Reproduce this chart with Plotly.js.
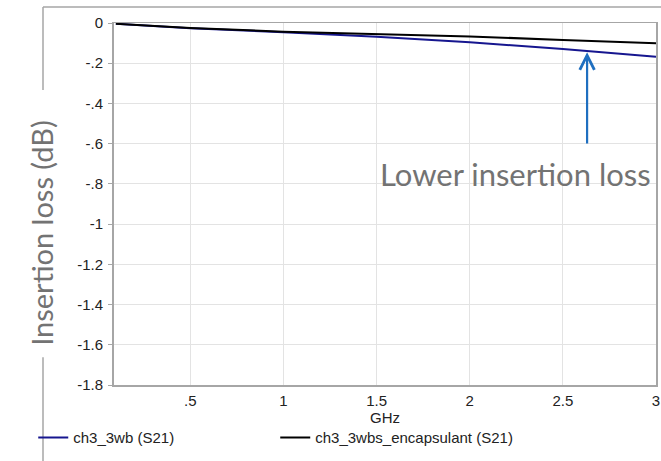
<!DOCTYPE html>
<html>
<head>
<meta charset="utf-8">
<script src="https://cdn.plot.ly/plotly-3.0.1.min.js"></script>
<style>html,body{margin:0;padding:0;background:#fff;}#chart{width:661px;height:461px;}</style>
</head>
<body>
<div id="chart"></div>
<script>
// Frequency (GHz)
const freqGHz = [0.1, 0.5, 1.0, 1.5, 2.0, 2.5, 3.0];
// Insertion loss S21 (dB)
const s21_3wb = [-0.004, -0.026, -0.046, -0.068, -0.096, -0.129, -0.168];
const s21_3wbsEncapsulant = [-0.004, -0.025, -0.043, -0.054, -0.067, -0.084, -0.101];
const seriesNames = ['ch3_3wb (S21)', 'ch3_3wbs_encapsulant (S21)'];
const xTickVals = [0.5, 1, 1.5, 2, 2.5, 3];
const xTickText = ['.5', '1', '1.5', '2', '2.5', '3'];
const yTickVals = [0, -0.2, -0.4, -0.6, -0.8, -1, -1.2, -1.4, -1.6, -1.8];
const yTickText = ['0', '-.2', '-.4', '-.6', '-.8', '-1', '-1.2', '-1.4', '-1.6', '-1.8'];
const yTitleText = 'Insertion loss (dB)';
const xTitleText = 'GHz';
const annotationText = 'Lower insertion loss';
const arrowHead = {x: 2.63, y: -0.145};
const arrowTail = {x: 2.63, y: -0.607};

const traces = [
  {x: freqGHz, y: s21_3wb, name: seriesNames[0], mode: 'lines', line: {color: '#16168f', width: 2}},
  {x: freqGHz, y: s21_3wbsEncapsulant, name: seriesNames[1], mode: 'lines', line: {color: '#000000', width: 2}}
];

const frameColor = '#a6a6a6';
const greyText = '#737373';
const bigFont = 'Lato, "Open Sans", sans-serif';
const layout = {
  width: 661, height: 461,
  margin: {l: 114, r: 5, t: 23, b: 76},
  paper_bgcolor: '#ffffff', plot_bgcolor: '#ffffff',
  font: {family: '"Liberation Sans", Arial, sans-serif', size: 15, color: '#222'},
  showlegend: true,
  legend: {orientation: 'h', x: -0.149, xanchor: 'left', y: -0.10, yanchor: 'top',
           entrywidth: 197, entrywidthmode: 'pixels', font: {size: 15, color: '#222'},
           bgcolor: 'rgba(0,0,0,0)'},
  xaxis: {range: [0.09, 3.0], tickvals: xTickVals, ticktext: xTickText, ticks: '',
          ticklabelstandoff: 1,
          showgrid: true, gridcolor: '#e3e3e3', gridwidth: 1, zeroline: false,
          showline: true, linecolor: frameColor, linewidth: 1.5, mirror: true,
          title: {text: xTitleText, font: {size: 15, color: '#222'}, standoff: 1},
          tickfont: {size: 15, color: '#222'}},
  yaxis: {range: [-1.8, 0], tickvals: yTickVals, ticktext: yTickText, ticks: 'outside',
          ticklen: 4, tickcolor: frameColor, ticklabelstandoff: 2,
          showgrid: true, gridcolor: '#e3e3e3', gridwidth: 1, zeroline: false,
          showline: true, linecolor: frameColor, linewidth: 2, mirror: true,
          tickfont: {size: 15, color: '#222'}},
  shapes: [
    {type: 'line', xref: 'paper', yref: 'paper', x0: -0.131, x1: 1.01, y0: 1.044, y1: 1.044, line: {color: frameColor, width: 1.5}},
    {type: 'line', xref: 'paper', yref: 'paper', x0: -0.131, x1: -0.131, y0: 1.044, y1: 0.815, line: {color: frameColor, width: 1.5}},
    {type: 'line', xref: 'paper', yref: 'paper', x0: -0.131, x1: -0.131, y0: 0.077, y1: -0.22, line: {color: frameColor, width: 1.5}}
  ],
  annotations: [
    {x: -0.133, y: 0.42, xref: 'paper', yref: 'paper', xanchor: 'center', yanchor: 'middle',
     textangle: -90, showarrow: false, text: yTitleText,
     font: {family: bigFont, size: 29, color: greyText}},
    {x: arrowHead.x, y: arrowHead.y, xref: 'x', yref: 'y', ax: arrowTail.x, ay: arrowTail.y,
     axref: 'x', ayref: 'y', showarrow: true, arrowhead: 5, arrowsize: 1.3, arrowwidth: 2.2,
     arrowcolor: '#1f6fc0', text: ''},
    {x: 2.985, y: -0.75, xref: 'x', yref: 'y', xanchor: 'right', yanchor: 'middle', showarrow: false,
     text: annotationText, font: {family: bigFont, size: 31, color: greyText}}
  ]
};

Plotly.newPlot('chart', traces, layout, {displayModeBar: false, staticPlot: true});
</script>
</body>
</html>
